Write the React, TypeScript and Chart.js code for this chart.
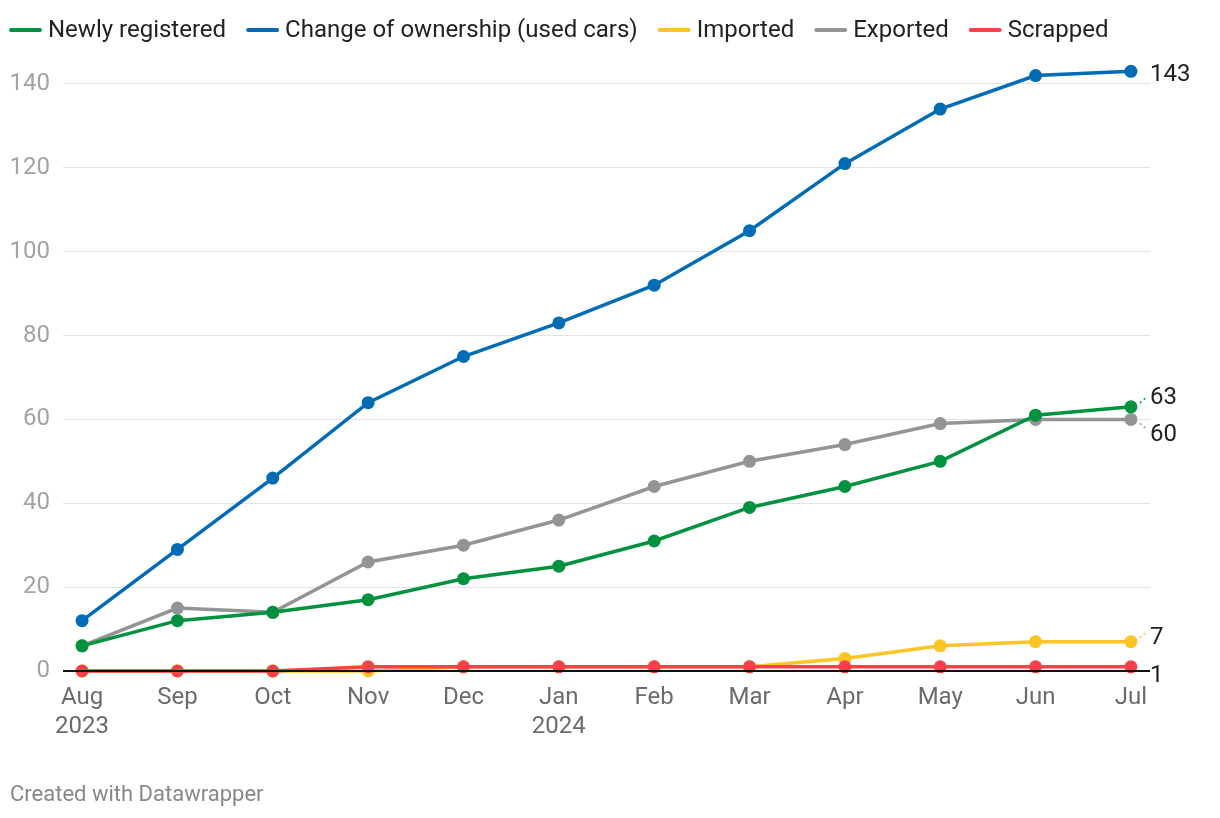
import React, { useEffect, useRef } from "react";
import { Chart, registerables } from "chart.js";

Chart.register(...registerables);

const months = ["Aug", "Sep", "Oct", "Nov", "Dec", "Jan", "Feb", "Mar", "Apr", "May", "Jun", "Jul"];
const yearLabels = ["2023", "", "", "", "", "2024", "", "", "", "", "", ""];

const newlyRegistered = [6, 12, 14, 17, 22, 25, 31, 39, 44, 50, 61, 63];
const changeOfOwnership = [12, 29, 46, 64, 75, 83, 92, 105, 121, 134, 142, 143];
const imported = [0, 0, 0, 0, 1, 1, 1, 1, 3, 6, 7, 7];
const exported = [6, 15, 14, 26, 30, 36, 44, 50, 54, 59, 60, 60];
const scrapped = [0, 0, 0, 1, 1, 1, 1, 1, 1, 1, 1, 1];

const seriesNames = ["Newly registered", "Change of ownership (used cars)", "Imported", "Exported", "Scrapped"];
const seriesColors = ["#00923f", "#006cb6", "#fcc425", "#949494", "#f9414a"];
const seriesValues = [newlyRegistered, changeOfOwnership, imported, exported, scrapped];
const drawOrder = [0, 2, 3, 4, 1];
// label vertical offsets (px) and whether to draw a small connector
const labelDy = [-9, 4, -4, 16, 9];
const labelConnector = [-1, 0, -1, 1, 0];

const FONT = "Roboto, 'Noto Sans', sans-serif";

export default function App() {
  const ref = useRef<HTMLCanvasElement | null>(null);

  useEffect(() => {
    document.body.style.margin = "0";
    const canvas = ref.current;
    if (!canvas) return;

    const overlay = {
      id: "overlay",
      afterDatasetsDraw(chart: any) {
        const { ctx, chartArea, scales } = chart;
        const x = scales.x;
        const y = scales.y;
        ctx.save();
        // zero line
        const y0 = y.getPixelForValue(0);
        ctx.strokeStyle = "#111";
        ctx.lineWidth = 2;
        ctx.beginPath();
        ctx.moveTo(chartArea.left, y0);
        ctx.lineTo(chartArea.right, y0);
        ctx.stroke();

        // end labels
        ctx.font = `24px ${FONT}`;
        ctx.fillStyle = "#222";
        ctx.textAlign = "left";
        ctx.textBaseline = "middle";
        const last = months.length - 1;
        const px = x.getPixelForValue(last);
        seriesValues.forEach((vals, i) => {
          const v = vals[last];
          const py = y.getPixelForValue(v);
          ctx.fillText(String(v), chartArea.right, py + labelDy[i]);
          if (labelConnector[i] !== 0) {
            ctx.save();
            ctx.strokeStyle = seriesColors[i];
            ctx.lineWidth = 1.5;
            ctx.setLineDash([2, 3]);
            ctx.beginPath();
            ctx.moveTo(px + 9, py + labelConnector[i] * 4);
            ctx.lineTo(px + 16, py + labelConnector[i] * 10);
            ctx.stroke();
            ctx.restore();
          }
        });
        ctx.restore();
      },
      afterDraw(chart: any) {
        const { ctx } = chart;
        ctx.save();
        // legend
        ctx.font = `24px ${FONT}`;
        ctx.textBaseline = "middle";
        ctx.textAlign = "left";
        let lx = 10;
        const ly = 30;
        seriesNames.forEach((name, i) => {
          ctx.strokeStyle = seriesColors[i];
          ctx.lineWidth = 4;
          ctx.lineCap = "round";
          ctx.beginPath();
          ctx.moveTo(lx + 1, ly);
          ctx.lineTo(lx + 30, ly);
          ctx.stroke();
          lx += 38;
          ctx.fillStyle = "#222";
          ctx.fillText(name, lx, ly + 1);
          lx += ctx.measureText(name).width + 21;
        });
        // footer
        ctx.font = `22px ${FONT}`;
        ctx.fillStyle = "#888";
        ctx.fillText("Created with Datawrapper", 10, 795);
        ctx.restore();
      },
    };

    const datasets = seriesNames.map((name, i) => ({
      label: name,
      data: seriesValues[i].map((v, j) => ({ x: j, y: v })),
      borderColor: seriesColors[i],
      backgroundColor: seriesColors[i],
      pointBackgroundColor: seriesColors[i],
      pointBorderWidth: 0,
      pointRadius: 6.5,
      borderWidth: 3.5,
      tension: 0,
      clip: false as any,
      order: drawOrder[i],
    }));

    const chart = new Chart(canvas, {
      type: "line",
      data: { datasets },
      options: {
        animation: false,
        responsive: false,
        devicePixelRatio: 1,
        layout: { padding: { top: 42, left: 0, right: 70, bottom: 0 } },
        plugins: { legend: { display: false }, tooltip: { enabled: false } },
        scales: {
          x: {
            type: "linear",
            min: -0.2,
            max: 11.2,
            grid: { display: false },
            border: { display: false },
            afterBuildTicks(scale: any) {
              scale.ticks = months.map((_, i) => ({ value: i }));
            },
            afterFit(scale: any) {
              scale.height = 147;
            },
            ticks: {
              autoSkip: false,
              maxRotation: 0,
              padding: 5,
              color: "#6b6b6b",
              font: { family: FONT, size: 24, lineHeight: 1.2 },
              callback: (v: any) => {
                const i = Math.round(Number(v));
                return yearLabels[i] ? [months[i], yearLabels[i]] : months[i];
              },
            },
          },
          y: {
            type: "linear",
            min: 0,
            max: 150,
            border: { display: false },
            grid: { color: "#e3e3e3", lineWidth: 1, drawTicks: false },
            afterFit(scale: any) {
              scale.width = 63;
            },
            ticks: {
              stepSize: 20,
              includeBounds: false,
              padding: 13,
              color: "#a3a3a3",
              font: { family: FONT, size: 24 },
            },
          },
        },
      },
      plugins: [overlay],
    });

    return () => chart.destroy();
  }, []);

  return (
    <div style={{ width: 1220, height: 818, position: "relative" }}>
      <canvas ref={ref} width={1220} height={818} style={{ display: "block" }} />
    </div>
  );
}
